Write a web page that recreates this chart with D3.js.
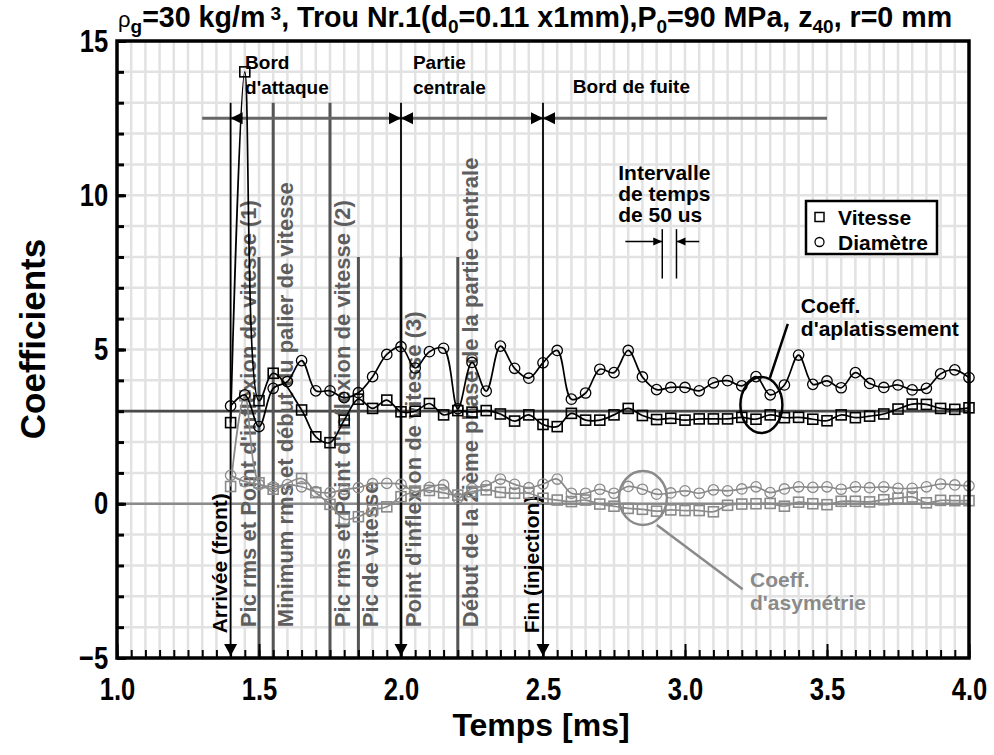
<!DOCTYPE html>
<html>
<head>
<meta charset="utf-8">
<script src="https://cdn.jsdelivr.net/npm/d3@7"></script>
<style>
body { margin: 0; background: #fff; }
svg { font-family: "Liberation Sans", Arial, sans-serif; font-weight: bold; }
</style>
</head>
<body>
<div id="chart"></div>
<script>
// Time stamps [ms] - velocity has no sample at 1.60
const timeV = [1.40, 1.45, 1.50, 1.55, 1.65, 1.70, 1.75, 1.80, 1.85, 1.90, 1.95, 2.00, 2.05, 2.10, 2.15, 2.20,
    2.25, 2.30, 2.35, 2.40, 2.45, 2.50, 2.55, 2.60, 2.65, 2.70, 2.75, 2.80, 2.85, 2.90, 2.95, 3.00, 3.05, 3.10,
    3.15, 3.20, 3.25, 3.30, 3.35, 3.40, 3.45, 3.50, 3.55, 3.60, 3.65, 3.70, 3.75, 3.80, 3.85, 3.90, 3.95, 4.00];
const timeD = [1.40, 1.45, 1.50, 1.55, 1.60, 1.65, 1.70, 1.75, 1.80, 1.85, 1.90, 1.95, 2.00, 2.05, 2.10, 2.15, 2.20,
    2.25, 2.30, 2.35, 2.40, 2.45, 2.50, 2.55, 2.60, 2.65, 2.70, 2.75, 2.80, 2.85, 2.90, 2.95, 3.00, 3.05, 3.10,
    3.15, 3.20, 3.25, 3.30, 3.35, 3.40, 3.45, 3.50, 3.55, 3.60, 3.65, 3.70, 3.75, 3.80, 3.85, 3.90, 3.95, 4.00];

// Coeff. d'aplatissement (kurtosis)
const kurtVitesse = [2.63, 14.0, 3.34, 4.23, 3.04, 2.17, 1.98, 2.71, 3.39, 3.09, 3.36, 2.98, 3.00, 3.25, 2.88, 3.02,
    2.97, 3.02, 2.91, 2.68, 2.88, 2.57, 2.50, 2.93, 2.71, 2.71, 2.88, 3.09, 2.86, 2.73, 2.77, 2.71, 2.75, 2.75,
    2.75, 2.80, 2.74, 2.88, 2.79, 2.80, 2.74, 2.69, 2.88, 2.79, 2.84, 2.91, 3.07, 3.23, 3.22, 3.09, 3.06, 3.11];
const kurtDiametre = [3.17, 3.53, 2.50, 3.74, 3.96, 4.64, 3.66, 3.66, 3.44, 3.60, 4.12, 4.84, 5.09, 4.40, 4.93, 5.04, 3.08,
    4.58, 3.65, 5.11, 4.39, 4.07, 4.57, 4.97, 3.39, 3.59, 4.36, 4.25, 4.97, 4.11, 3.70, 3.77, 3.77, 3.66, 3.92,
    3.99, 3.82, 4.12, 3.53, 3.85, 4.82, 3.87, 3.98, 3.76, 4.25, 3.90, 3.77, 3.85, 3.69, 3.74, 4.21, 4.34, 4.09];

// Coeff. d'asymetrie (skewness)
const skewVitesse = [0.56, 3.50, 0.68, 0.47, 0.82, 0.36, -0.02, -0.50, -0.42, -0.20, -0.10, 0.23, 0.39, 0.43, 0.35, 0.28,
    0.39, 0.45, 0.37, 0.34, 0.34, 0.18, 0.12, 0.07, 0.12, -0.01, -0.08, -0.15, -0.18, -0.24, -0.20, -0.22, -0.22, -0.26,
    -0.05, -0.01, 0.00, 0.01, -0.08, 0.05, 0.00, -0.03, 0.08, 0.08, 0.06, 0.13, 0.18, 0.22, 0.03, 0.11, 0.10, 0.10];
const skewDiametre = [0.92, 0.72, 0.62, 0.55, 0.62, 0.55, 0.39, 0.36, 0.47, 0.52, 0.65, 0.66, 0.63, 0.39, 0.53, 0.61, 0.18,
    0.50, 0.58, 0.80, 0.63, 0.52, 0.64, 0.80, 0.34, 0.34, 0.47, 0.34, 0.56, 0.47, 0.31, 0.35, 0.42, 0.34, 0.45,
    0.42, 0.48, 0.55, 0.36, 0.48, 0.55, 0.53, 0.55, 0.47, 0.55, 0.52, 0.55, 0.50, 0.50, 0.55, 0.64, 0.61, 0.58];

// Axis ticks
const xTicks = [1.0, 1.5, 2.0, 2.5, 3.0, 3.5, 4.0];
const yTicks = [-5, 0, 5, 10, 15];

// Phases of the spray (black markers) and events (grey markers)
const phaseTimes = [1.4, 2.0, 2.5];
const phaseNames = [["Bord", "d'attaque"], ["Partie", "centrale"], ["Bord de fuite"]];
const eventTimes = [1.5, 1.55, 1.75, 1.85, 2.0, 2.2];
const eventTops = [8, 13, 13, 8, 8, 8];
const eventLabels = ["Pic rms et Point d'inflexion de vitesse (1)", "Minimum rms et début du palier de vitesse",
    "Pic rms et Point d'inflexion de vitesse (2)", "Pic de vitesse", "Point d'inflexion de vitesse (3)",
    "Début de la 2ième phase de la partie centrale"];

const W = 994, H = 755;
const svg = d3.select("#chart").append("svg").attr("width", W).attr("height", H);

const x = d3.scaleLinear().domain([1, 4]).range([117, 969]);
const y = d3.scaleLinear().domain([-5, 15]).range([658, 41]);

const grey = "#8a8a8a", darkGrey = "#555";

// Grid
const grid = svg.append("g");
grid.selectAll("line.v").data(d3.range(1, 4.001, 0.05)).join("line")
    .attr("x1", d => x(d)).attr("x2", d => x(d)).attr("y1", y(15)).attr("y2", y(-5))
    .attr("stroke", "#e2e2e2").attr("stroke-width", 2.5);
grid.selectAll("line.h").data(d3.range(-5, 15.001, 1)).join("line")
    .attr("y1", d => y(d)).attr("y2", d => y(d)).attr("x1", x(1)).attr("x2", x(4))
    .attr("stroke", "#e2e2e2").attr("stroke-width", 2.5);

// Reference levels (normal distribution: kurtosis 3, skewness 0)
svg.append("line").attr("x1", x(1)).attr("x2", x(4)).attr("y1", y(3)).attr("y2", y(3))
    .attr("stroke", "#4a4a4a").attr("stroke-width", 2.8);
svg.append("line").attr("x1", x(1)).attr("x2", x(4)).attr("y1", y(0)).attr("y2", y(0))
    .attr("stroke", grey).attr("stroke-width", 2.5);

function tri(px, py, dir, len, half) {
    // tip at (px,py), pointing in dir
    if (dir === "left") return `M${px},${py}L${px + len},${py - half}L${px + len},${py + half}Z`;
    if (dir === "right") return `M${px},${py}L${px - len},${py - half}L${px - len},${py + half}Z`;
    return `M${px},${py}L${px - half},${py - len}L${px + half},${py - len}Z`; // down
}

// Event lines (grey)
const ev = svg.append("g");
eventTimes.forEach((t, i) => {
    ev.append("line").attr("x1", x(t)).attr("x2", x(t)).attr("y1", y(eventTops[i])).attr("y2", y(-5))
        .attr("stroke", darkGrey).attr("stroke-width", 3);
    const left = i === 0;
    const tx = left ? x(t) - 3 : x(t) + 20;
    ev.append("text")
        .attr("transform", `translate(${tx},${y(-4)}) rotate(-90)`)
        .attr("fill", "#5e5e5e").style("font-size", "22px")
        .text(eventLabels[i]);
});

// Phase line with arrows
svg.append("line").attr("x1", x(1.3)).attr("x2", x(3.5)).attr("y1", y(12.5)).attr("y2", y(12.5))
    .attr("stroke", "#666").attr("stroke-width", 3);
phaseTimes.forEach((t, i) => {
    svg.append("line").attr("x1", x(t)).attr("x2", x(t)).attr("y1", y(13)).attr("y2", y(-5))
        .attr("stroke", "#000").attr("stroke-width", 1.8);
    svg.append("path").attr("d", tri(x(t), y(-5) - 2, "down", 12, 6.5)).attr("fill", "#000");
    svg.append("path").attr("d", tri(x(t), y(12.5), "left", 12, 6)).attr("fill", "#000");
    if (i > 0) svg.append("path").attr("d", tri(x(t), y(12.5), "right", 12, 6)).attr("fill", "#000");
});
svg.append("text").attr("transform", `translate(${x(1.4) - 4},${y(-4.2)}) rotate(-90)`)
    .style("font-size", "21px").text("Arrivée (front)");
svg.append("text").attr("transform", `translate(${x(2.5) - 4},${y(-4.2)}) rotate(-90)`)
    .style("font-size", "21px").text("Fin (injection)");

// Phase names
const phaseLabelPos = [[1.451, 14.08], [2.042, 14.08], [2.605, 13.3]];
phaseNames.forEach((lines, i) => {
    const t = svg.append("text").attr("x", x(phaseLabelPos[i][0])).attr("y", y(phaseLabelPos[i][1]))
        .style("font-size", "19px");
    lines.forEach((s, j) => t.append("tspan").attr("x", x(phaseLabelPos[i][0])).attr("dy", j ? 24.5 : 0).text(s));
});

// Time interval marker (50 us)
const iv = svg.append("g");
[2.92, 2.97].forEach(t => iv.append("line").attr("x1", x(t)).attr("x2", x(t))
    .attr("y1", y(8.9)).attr("y2", y(7.3)).attr("stroke", "#000").attr("stroke-width", 1.5));
iv.append("line").attr("x1", x(2.79)).attr("x2", x(2.92)).attr("y1", y(8.5)).attr("y2", y(8.5))
    .attr("stroke", "#000").attr("stroke-width", 1.5);
iv.append("path").attr("d", tri(x(2.92), y(8.5), "right", 9, 4)).attr("fill", "#000");
iv.append("line").attr("x1", x(3.05)).attr("x2", x(2.97)).attr("y1", y(8.5)).attr("y2", y(8.5))
    .attr("stroke", "#000").attr("stroke-width", 1.5);
iv.append("path").attr("d", tri(x(2.97), y(8.5), "left", 9, 4)).attr("fill", "#000");
const ivText = svg.append("text").style("font-size", "21px");
["Intervalle", "de temps", "de 50 us"].forEach((s, j) =>
    ivText.append("tspan").attr("x", x(2.765)).attr("y", y(10.49) + j * 21).text(s));

// Data series
const series = [
    {t: timeV, v: skewVitesse, color: grey, shape: "square"},
    {t: timeD, v: skewDiametre, color: grey, shape: "circle"},
    {t: timeV, v: kurtVitesse, color: "#000", shape: "square"},
    {t: timeD, v: kurtDiametre, color: "#000", shape: "circle"}
];
const line = d3.line().x(d => x(d[0])).y(d => y(d[1])).curve(d3.curveCatmullRom.alpha(0.5));
series.forEach(s => {
    const pts = s.t.map((t, i) => [t, s.v[i]]);
    const g = svg.append("g");
    g.append("path").datum(pts).attr("d", line).attr("fill", "none")
        .attr("stroke", s.color).attr("stroke-width", 1.7);
    if (s.shape === "square") {
        g.selectAll("rect").data(pts).join("rect")
            .attr("x", d => x(d[0]) - 5).attr("y", d => y(d[1]) - 5).attr("width", 10).attr("height", 10)
            .attr("fill", "none").attr("stroke", s.color).attr("stroke-width", 1.6);
    } else {
        g.selectAll("circle").data(pts).join("circle")
            .attr("cx", d => x(d[0])).attr("cy", d => y(d[1])).attr("r", 5.2)
            .attr("fill", "none").attr("stroke", s.color).attr("stroke-width", 1.3);
    }
});

// Kurtosis callout
svg.append("ellipse").attr("cx", x(3.269)).attr("cy", y(3.2)).attr("rx", 21).attr("ry", 28)
    .attr("fill", "none").attr("stroke", "#000").attr("stroke-width", 2.5);
svg.append("line").attr("x1", x(3.299)).attr("y1", y(4.08)).attr("x2", x(3.362)).attr("y2", y(5.83))
    .attr("stroke", "#000").attr("stroke-width", 2.5);
const kt = svg.append("text").style("font-size", "21px");
["Coeff.", "d'aplatissement"].forEach((s, j) =>
    kt.append("tspan").attr("x", x(3.408)).attr("y", y(6.18) + j * 23).text(s));

// Skewness callout
svg.append("ellipse").attr("cx", x(2.852)).attr("cy", y(0.19)).attr("rx", 24).attr("ry", 27)
    .attr("fill", "none").attr("stroke", grey).attr("stroke-width", 2.5);
svg.append("line").attr("x1", x(2.901)).attr("y1", y(-0.69)).attr("x2", x(3.203)).attr("y2", y(-2.77))
    .attr("stroke", grey).attr("stroke-width", 2.5);
const st = svg.append("text").style("font-size", "21px").attr("fill", grey);
["Coeff.", "d'asymétrie"].forEach((s, j) =>
    st.append("tspan").attr("x", x(3.229)).attr("y", y(-2.70) + j * 23).text(s));

// Legend
const lg = svg.append("g");
lg.append("rect").attr("x", 806).attr("y", 201).attr("width", 131).attr("height", 53)
    .attr("fill", "#fff").attr("stroke", "#000").attr("stroke-width", 2.5);
lg.append("rect").attr("x", 815).attr("y", 212.5).attr("width", 9).attr("height", 9)
    .attr("fill", "none").attr("stroke", "#000").attr("stroke-width", 1.5);
lg.append("circle").attr("cx", 819.5).attr("cy", 242).attr("r", 4.5)
    .attr("fill", "none").attr("stroke", "#000").attr("stroke-width", 1.3);
lg.append("text").attr("x", 838).attr("y", 225).style("font-size", "21px").text("Vitesse");
lg.append("text").attr("x", 838).attr("y", 250).style("font-size", "21px").text("Diamètre");

// Axes (tick labels in a condensed bold face)
const condense = 0.8;
const minorX = d3.range(1, 4.001, 0.05);
svg.append("g").attr("transform", `translate(0,${y(-5)})`)
    .call(d3.axisBottom(x).tickValues(minorX).tickSize(-8).tickFormat(""))
    .call(g => g.selectAll("line").attr("stroke-width", 2))
    .call(g => g.select(".domain").remove());
svg.append("g").attr("transform", `translate(0,${y(-5)})`)
    .call(d3.axisBottom(x).tickValues(xTicks).tickSize(-14).tickPadding(19).tickFormat(d3.format(".1f")))
    .call(g => g.selectAll("line").attr("stroke-width", 2))
    .call(g => g.selectAll("text").style("font-size", "32px").style("font-family", "inherit")
        .attr("transform", `scale(${condense},1)`))
    .call(g => g.select(".domain").remove());
svg.append("g").attr("transform", `translate(${x(1)},0)`)
    .call(d3.axisLeft(y).tickValues(d3.range(-5, 15.001, 1)).tickSize(-7).tickFormat(""))
    .call(g => g.selectAll("line").attr("stroke-width", 3))
    .call(g => g.select(".domain").remove());
svg.append("g").attr("transform", `translate(${x(1)},0)`)
    .call(d3.axisLeft(y).tickValues(yTicks).tickSize(-9).tickPadding(11))
    .call(g => g.selectAll("line").attr("stroke-width", 3))
    .call(g => g.selectAll("text").style("font-size", "32px").style("font-family", "inherit")
        .attr("transform", `scale(${condense},1)`))
    .call(g => g.select(".domain").remove());

svg.append("rect").attr("x", x(1)).attr("y", y(15)).attr("width", x(4) - x(1)).attr("height", y(-5) - y(15))
    .attr("fill", "none").attr("stroke", "#000").attr("stroke-width", 3.5);

// Axis titles
svg.append("text").attr("x", (x(1) + x(4)) / 2 - 2).attr("y", 736).attr("text-anchor", "middle")
    .style("font-size", "32px").text("Temps [ms]");
svg.append("text").attr("transform", `translate(45,339) rotate(-90)`)
    .attr("text-anchor", "middle").style("font-size", "35px").text("Coefficients");

// Title
const title = svg.append("text").attr("x", 118).attr("y", 27).style("font-size", "28.6px");
title.append("tspan").style("font-weight", "normal").style("font-size", "22px").text("ρ");
title.append("tspan").attr("baseline-shift", "-30%").style("font-size", "19px").text("g");
title.append("tspan").text("=30 kg/m");
title.append("tspan").attr("baseline-shift", "35%").style("font-size", "19px").text(" 3");
title.append("tspan").text(", Trou Nr.1(d");
title.append("tspan").attr("baseline-shift", "-30%").style("font-size", "19px").text("0");
title.append("tspan").text("=0.11 x1mm),P");
title.append("tspan").attr("baseline-shift", "-30%").style("font-size", "19px").text("0");
title.append("tspan").text("=90 MPa, z");
title.append("tspan").attr("baseline-shift", "-30%").style("font-size", "19px").text("40");
title.append("tspan").text(", r=0 mm");
</script>
</body>
</html>
